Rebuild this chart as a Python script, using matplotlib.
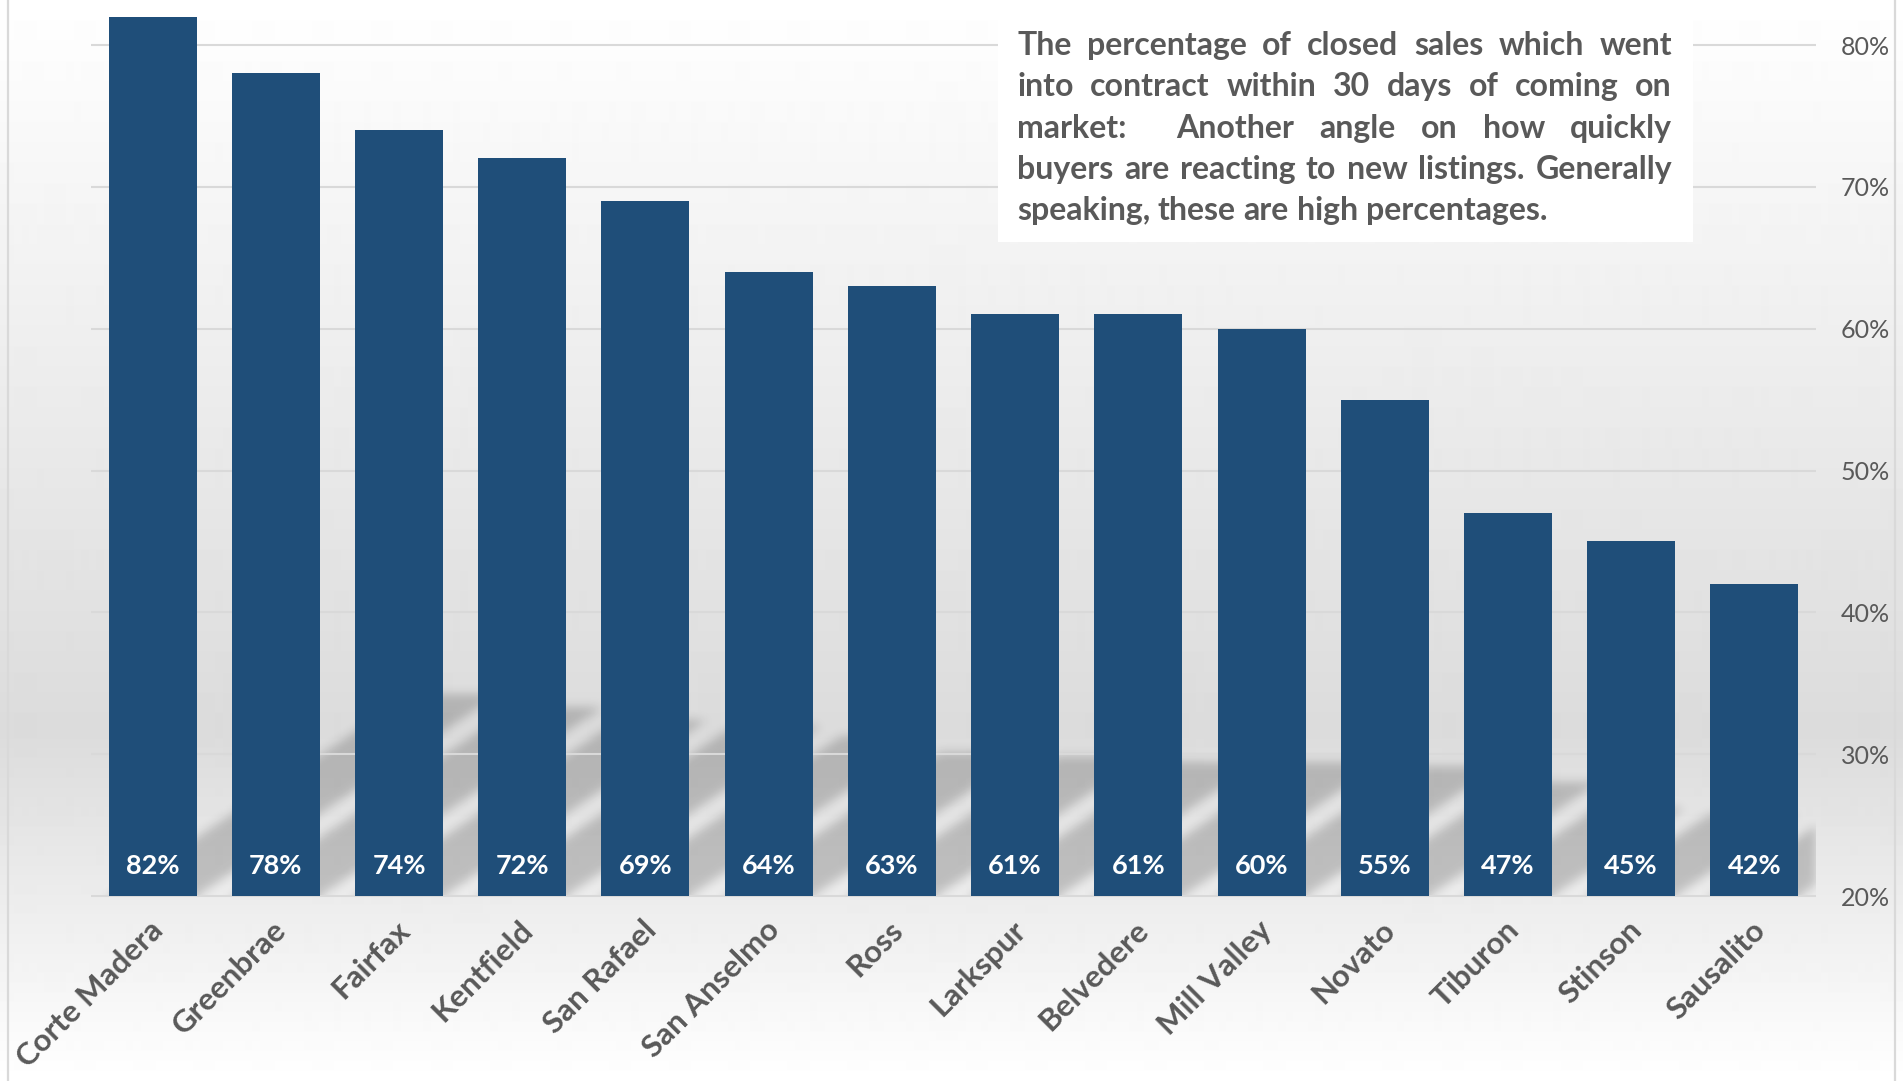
import numpy as np
import matplotlib.pyplot as plt
from matplotlib.path import Path
from matplotlib.patches import Rectangle
from matplotlib.lines import Line2D

# Share of closed sales that went into contract within 30 days, by town
towns = ['Corte Madera', 'Greenbrae', 'Fairfax', 'Kentfield', 'San Rafael',
         'San Anselmo', 'Ross', 'Larkspur', 'Belvedere', 'Mill Valley',
         'Novato', 'Tiburon', 'Stinson', 'Sausalito']
pct_30_days = [82, 78, 74, 72, 69, 64, 63, 61, 61, 60, 55, 47, 45, 42]
y_ticks = [20, 30, 40, 50, 60, 70, 80]
note_lines = [
    'The percentage of closed sales which went',
    'into contract within 30 days of coming on',
    'market:  Another angle on how quickly',
    'buyers are reacting to new listings. Generally',
    'speaking, these are high percentages.',
]

W, H, DPI = 1903, 1081, 100
BAR_COLOR = '#1F4E79'
TEXT_GRAY = '#595959'
LINE_GRAY = '#D9D9D9'


def blur(a, sigma):
    r = int(3 * sigma)
    k = np.exp(-0.5 * (np.arange(-r, r + 1) / sigma) ** 2)
    k /= k.sum()
    a = np.apply_along_axis(lambda c: np.convolve(c, k, mode='same'), 0, a)
    a = np.apply_along_axis(lambda c: np.convolve(c, k, mode='same'), 1, a)
    return a


def main():
    plt.rcParams['font.family'] = ['Lato', 'DejaVu Sans']
    fig = plt.figure(figsize=(W / DPI, H / DPI), dpi=DPI)

    # soft vertical gradient behind everything
    bg = fig.add_axes([0, 0, 1, 1], zorder=-10)
    rows = np.arange(H)
    shade = np.interp(rows, [0, 730, H - 1], [1.0, 0.86, 1.0])
    bg.imshow(shade[:, None], cmap='gray', vmin=0, vmax=1, aspect='auto',
              extent=[0, 1, 0, 1], interpolation='bilinear')
    bg.axis('off')

    # frame edges of the chart area
    for xp in (8, 1895):
        fig.add_artist(Line2D([xp / W, xp / W], [0, 1], color=LINE_GRAY, lw=1.6,
                              transform=fig.transFigure))

    ax = fig.add_axes([91 / W, 185 / H, 1725 / W, (896 - 13.8) / H])
    ax.patch.set_visible(False)
    ax.set_xlim(-0.5, len(towns) - 0.5)
    ax.set_ylim(20, 82.2)
    for s in ax.spines.values():
        s.set_visible(False)

    x = np.arange(len(towns))
    vals = np.array(pct_30_days)
    bar_w = 0.714

    ax.hlines(y_ticks, -0.5, len(towns) - 0.5, color=LINE_GRAY, lw=1.5,
              zorder=1, clip_on=False)
    ax.bar(x, vals - 20, bottom=20, width=bar_w, color=BAR_COLOR, zorder=3)

    for i, v in enumerate(vals):
        ax.annotate(f'{v}%', (i, 20), xytext=(0, 21.5), textcoords='offset points',
                    ha='center', va='center', color='white', fontsize=19.5,
                    fontweight='bold', zorder=4)

    # slanted drop shadows cast by the bars, rasterised and blurred
    to_px = ax.transData
    base = to_px.transform((0, 20))[1]
    bb = ax.get_window_extent()
    gx0, gx1 = int(bb.x0), int(np.ceil(bb.x1))
    gy0, gy1 = int(base) - 20, int(base) + 260
    gxs, gys = np.meshgrid(np.arange(gx0, gx1) + 0.5, np.arange(gy0, gy1) + 0.5)
    pts = np.column_stack([gxs.ravel(), gys.ravel()])
    mask = np.zeros(gxs.shape)
    for i, v in enumerate(vals):
        left = to_px.transform((i - bar_w / 2, 20))[0]
        right = to_px.transform((i + bar_w / 2, 20))[0]
        top = to_px.transform((0, v))[1]
        sh = 0.23 * (top - base)
        dx = 1.5 * sh
        poly = Path([(left, base - 20), (right, base - 20), (right, base),
                     (right + dx, base + sh), (left + dx, base + sh), (left, base)])
        mask = np.maximum(mask, poly.contains_points(pts).reshape(gxs.shape))
    mask = blur(mask, 5)[20:]
    rgba = np.zeros(mask.shape + (4,))
    rgba[..., 3] = mask * 0.19
    inv = ax.transData.inverted()
    ex0, ey0 = inv.transform((gx0, base))
    ex1, ey1 = inv.transform((gx1, gy1))
    ax.imshow(rgba, origin='lower', extent=[ex0, ex1, ey0, ey1], aspect='auto',
              zorder=0.5, interpolation='bilinear')
    ax.set_xlim(-0.5, len(towns) - 0.5)
    ax.set_ylim(20, 82.2)

    ax.yaxis.tick_right()
    ax.set_yticks(y_ticks)
    ax.set_yticklabels([f'{t}%' for t in y_ticks])
    ax.tick_params(axis='y', length=0, pad=18, labelsize=18, labelcolor=TEXT_GRAY)
    ax.set_xticks(x - 0.03)
    ax.set_xticklabels(towns, rotation=45, ha='right', va='top',
                       rotation_mode='anchor', fontsize=22.5, fontweight='bold',
                       color=TEXT_GRAY)
    ax.tick_params(axis='x', length=0, pad=14)

    # note box with justified text
    fig.add_artist(Rectangle((998 / W, 1 - 242 / H), (1693 - 998) / W, 232 / H,
                             transform=fig.transFigure, facecolor='white',
                             edgecolor='none', zorder=5))
    renderer = fig.canvas.get_renderer()
    left_px, right_px = 1017, 1672

    def width_of(s, size):
        t = fig.text(0, 0, s, fontsize=size, fontweight='bold')
        w = t.get_window_extent(renderer).width
        t.remove()
        return w

    size = 23
    widest = max(width_of(l, size) for l in note_lines)
    if widest > right_px - left_px:
        size *= (right_px - left_px) / widest
    space = width_of('a a', size) - width_of('aa', size)

    for n, line in enumerate(note_lines):
        words = line.split(' ')
        widths = [width_of(wd, size) if wd else 0 for wd in words]
        if n < len(note_lines) - 1:
            gap = (right_px - left_px - sum(widths)) / (len(words) - 1)
        else:
            gap = space
        y_base = 55 + n * 41.3
        xp = left_px
        for wd, wdt in zip(words, widths):
            if wd:
                fig.text(xp / W, 1 - y_base / H, wd, fontsize=size, fontweight='bold',
                         color=TEXT_GRAY, ha='left', va='baseline', zorder=6)
            xp += wdt + gap

    fig.savefig('out.png', dpi=DPI)


if __name__ == "__main__":
    main()
